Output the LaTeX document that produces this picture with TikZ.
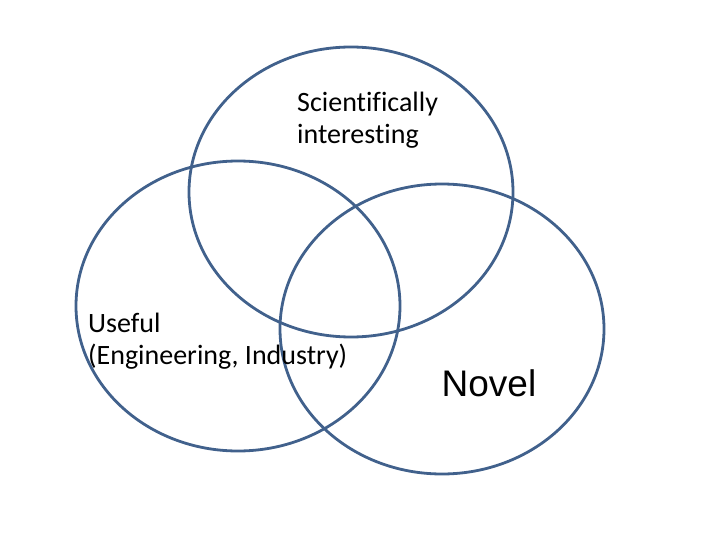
\documentclass[tikz,border=0pt]{standalone}
\usepackage{fontspec}
\setmainfont{Carlito}[Ligatures={NoCommon}]
\newfontfamily\novelfont{Liberation Sans}
\definecolor{vennblue}{HTML}{41618C}

\begin{document}
\begin{tikzpicture}[x=1pt,y=-1pt]
\useasboundingbox (0,0) rectangle (720,540);
\tikzset{ring/.style={vennblue,line width=2.8pt},
  lbl/.style={anchor=west,inner sep=0pt,align=left,font=\fontsize{28}{32}\selectfont}}
\draw[ring] (351,192) ellipse (162 and 145);
\draw[ring] (238,306) ellipse (162 and 145);
\draw[ring] (442,329) ellipse (162 and 145);
\node[lbl] (sci) at (297,120) {Scientifically\\interesting};
\node[lbl] (use) at (88,341) {Useful\\(Engineering, Industry)};
\node[inner sep=0pt,font=\novelfont\fontsize{37}{44}\selectfont] (nov) at (489,383) {Novel};
\end{tikzpicture}
\end{document}
